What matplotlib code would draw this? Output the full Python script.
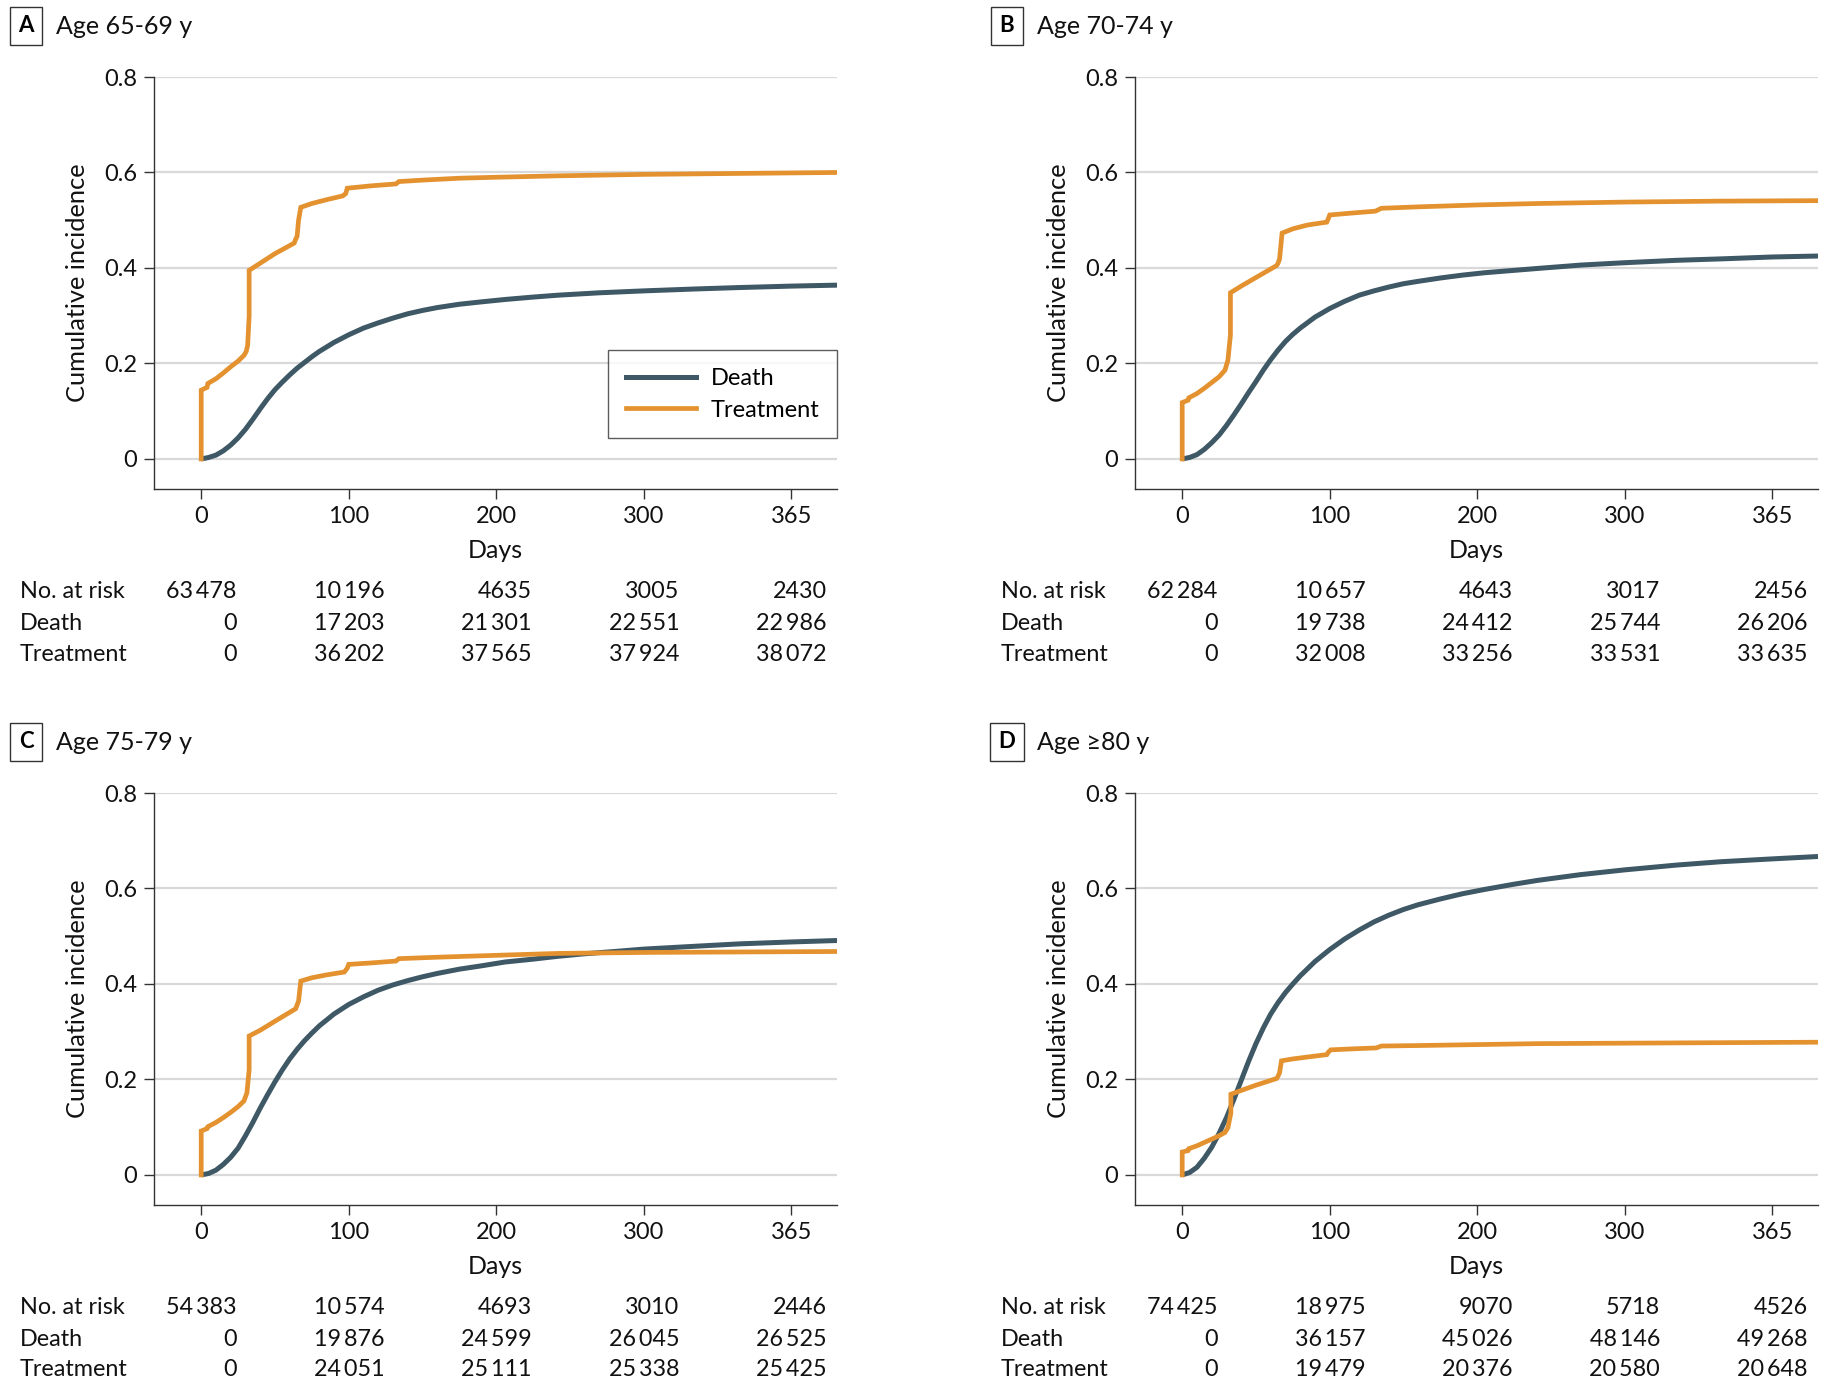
import matplotlib
matplotlib.use("Agg")
import matplotlib.pyplot as plt
from matplotlib import font_manager as fm
from matplotlib.transforms import blended_transform_factory
from matplotlib.lines import Line2D

names = {f.name for f in fm.fontManager.ttflist}
FONT = next((c for c in ["Lato", "Noto Sans", "Open Sans", "DejaVu Sans"] if c in names), "DejaVu Sans")
plt.rcParams['font.family'] = [FONT, 'DejaVu Sans']

# ---------------- data ----------------
panel_letters = ["A", "B", "C", "D"]
panel_titles = ["Age 65-69 y", "Age 70-74 y", "Age 75-79 y", "Age \u226580 y"]

tick_positions = [0, 100, 200, 300, 400]
tick_labels = ["0", "100", "200", "300", "365"]
risk_row_labels = ["No. at risk", "Death", "Treatment"]

# Death cumulative incidence
death_days_A = [0, 5, 10, 15, 20, 25, 30, 35, 40, 45, 50, 55, 60, 65, 70, 75, 80, 90, 100, 110, 120, 130, 140, 150, 160, 175, 190, 206, 225, 242, 270, 300, 335, 365, 400, 431]
death_vals_A = [0, 0.003, 0.008, 0.017, 0.029, 0.044, 0.062, 0.083, 0.105, 0.126, 0.145, 0.161, 0.176, 0.190, 0.202, 0.214, 0.225, 0.244, 0.260, 0.274, 0.285, 0.295, 0.304, 0.311, 0.317, 0.324, 0.329, 0.334, 0.339, 0.343, 0.348, 0.352, 0.356, 0.359, 0.362, 0.364]

death_days_B = [0, 5, 10, 15, 20, 25, 30, 35, 40, 45, 50, 55, 60, 65, 70, 75, 80, 90, 100, 110, 120, 130, 140, 150, 160, 175, 190, 205, 225, 241, 270, 300, 335, 365, 400, 431]
death_vals_B = [0, 0.003, 0.009, 0.020, 0.034, 0.050, 0.070, 0.092, 0.115, 0.139, 0.162, 0.186, 0.208, 0.228, 0.246, 0.261, 0.274, 0.297, 0.315, 0.330, 0.343, 0.352, 0.360, 0.367, 0.372, 0.379, 0.385, 0.390, 0.395, 0.399, 0.406, 0.411, 0.416, 0.419, 0.423, 0.425]

death_days_C = [0, 5, 10, 15, 20, 25, 30, 35, 40, 45, 50, 55, 60, 65, 70, 75, 80, 90, 100, 110, 120, 130, 140, 150, 160, 175, 190, 206, 225, 242, 259, 280, 300, 335, 365, 400, 431]
death_vals_C = [0, 0.003, 0.010, 0.022, 0.037, 0.056, 0.082, 0.110, 0.140, 0.168, 0.195, 0.220, 0.243, 0.263, 0.281, 0.297, 0.312, 0.337, 0.357, 0.373, 0.387, 0.398, 0.407, 0.415, 0.422, 0.431, 0.438, 0.446, 0.452, 0.458, 0.463, 0.468, 0.473, 0.479, 0.484, 0.488, 0.491]

death_days_D = [0, 5, 10, 15, 20, 25, 30, 35, 40, 45, 50, 55, 60, 65, 70, 75, 80, 90, 100, 110, 120, 130, 140, 150, 160, 175, 190, 205, 225, 241, 270, 300, 335, 365, 400, 431]
death_vals_D = [0, 0.005, 0.016, 0.035, 0.058, 0.087, 0.120, 0.158, 0.198, 0.238, 0.275, 0.308, 0.337, 0.361, 0.382, 0.400, 0.417, 0.447, 0.472, 0.494, 0.513, 0.530, 0.544, 0.556, 0.566, 0.578, 0.589, 0.598, 0.609, 0.617, 0.629, 0.639, 0.649, 0.656, 0.662, 0.667]

# Treatment cumulative incidence
treat_days_A = [0, 0, 4, 4.5, 10, 15, 20, 25, 29, 30.5, 31.5, 32.5, 32.5, 40, 50, 63, 64, 65, 66, 67.5, 75, 85, 96, 98, 99, 115, 132, 134, 150, 175, 200, 242, 300, 365, 431]
treat_vals_A = [0, 0.144, 0.150, 0.158, 0.168, 0.180, 0.193, 0.205, 0.217, 0.225, 0.238, 0.300, 0.395, 0.410, 0.430, 0.452, 0.460, 0.466, 0.500, 0.527, 0.535, 0.543, 0.551, 0.556, 0.567, 0.572, 0.576, 0.581, 0.584, 0.588, 0.590, 0.593, 0.596, 0.598, 0.600]

treat_days_B = [0, 0, 4, 4.5, 10, 15, 20, 25, 29, 31, 32.7, 32.7, 40, 50, 64, 65, 66, 67.7, 75, 85, 98, 99, 100, 115, 131, 135, 160, 200, 241, 300, 365, 431]
treat_vals_B = [0, 0.118, 0.123, 0.128, 0.137, 0.148, 0.160, 0.172, 0.186, 0.207, 0.260, 0.348, 0.362, 0.380, 0.405, 0.410, 0.419, 0.473, 0.482, 0.490, 0.496, 0.503, 0.511, 0.515, 0.519, 0.525, 0.528, 0.532, 0.535, 0.538, 0.540, 0.541]

treat_days_C = [0, 0, 4, 4.5, 10, 15, 20, 25, 29, 31, 32.5, 32.5, 40, 50, 64, 65, 66, 67.5, 75, 85, 97, 99, 100, 115, 132, 134, 160, 200, 242, 300, 365, 431]
treat_vals_C = [0, 0.092, 0.097, 0.101, 0.110, 0.120, 0.131, 0.143, 0.155, 0.172, 0.220, 0.291, 0.303, 0.322, 0.348, 0.356, 0.364, 0.406, 0.413, 0.419, 0.425, 0.433, 0.441, 0.444, 0.448, 0.453, 0.456, 0.460, 0.464, 0.466, 0.467, 0.468]

treat_days_D = [0, 0, 4, 4.5, 10, 15, 20, 25, 29, 31, 33, 33, 40, 50, 64, 65, 66, 67.3, 75, 85, 98, 99, 100.7, 115, 131.6, 135, 160, 200, 241, 300, 365, 431]
treat_vals_D = [0, 0.048, 0.051, 0.055, 0.061, 0.068, 0.075, 0.082, 0.089, 0.099, 0.130, 0.169, 0.177, 0.188, 0.202, 0.207, 0.214, 0.239, 0.243, 0.247, 0.252, 0.257, 0.262, 0.264, 0.266, 0.270, 0.271, 0.273, 0.275, 0.276, 0.277, 0.278]

# Risk tables
risk_A = [[63478, 10196, 4635, 3005, 2430], [0, 17203, 21301, 22551, 22986], [0, 36202, 37565, 37924, 38072]]
risk_B = [[62284, 10657, 4643, 3017, 2456], [0, 19738, 24412, 25744, 26206], [0, 32008, 33256, 33531, 33635]]
risk_C = [[54383, 10574, 4693, 3010, 2446], [0, 19876, 24599, 26045, 26525], [0, 24051, 25111, 25338, 25425]]
risk_D = [[74425, 18975, 9070, 5718, 4526], [0, 36157, 45026, 48146, 49268], [0, 19479, 20376, 20580, 20648]]

death_days = [death_days_A, death_days_B, death_days_C, death_days_D]
death_vals = [death_vals_A, death_vals_B, death_vals_C, death_vals_D]
treat_days = [treat_days_A, treat_days_B, treat_days_C, treat_days_D]
treat_vals = [treat_vals_A, treat_vals_B, treat_vals_C, treat_vals_D]
risks = [risk_A, risk_B, risk_C, risk_D]

DEATH_C = "#3f5866"
TREAT_C = "#e3922f"
FS = 16.5

def fmt(n):
    s = str(n)
    if len(s) >= 5:
        s = s[:-3] + "\u2009" + s[-3:]
    return s

W, H = 1827, 1382
fig = plt.figure(figsize=(W / 100, H / 100), dpi=100)

# pixel layout
ax_left = [154, 1135, 154, 1135]
ax_top = [77, 77, 793, 793]
ax_w = 683
ax_h = 412

for i in range(4):
    l, t = ax_left[i], ax_top[i]
    ax = fig.add_axes([l / W, 1 - (t + ax_h) / H, ax_w / W, ax_h / H])
    ax.set_xlim(-32, 431)
    ax.set_ylim(-0.063, 0.8)
    for y in [0, 0.2, 0.4, 0.6, 0.8]:
        ax.axhline(y, color="#d9d9d9", lw=1.6, zorder=0)
    ax.plot(death_days[i], death_vals[i], color=DEATH_C, lw=3.6, solid_capstyle="butt", zorder=3, label="Death")
    ax.plot(treat_days[i], treat_vals[i], color=TREAT_C, lw=3.4, solid_joinstyle="miter", zorder=4, label="Treatment")
    for s in ["top", "right"]:
        ax.spines[s].set_visible(False)
    for s in ["left", "bottom"]:
        ax.spines[s].set_color("#333333")
        ax.spines[s].set_linewidth(1.0)
    ax.spines["left"].set_bounds(-0.063, 0.8)
    ax.set_yticks([0, 0.2, 0.4, 0.6, 0.8])
    ax.set_yticklabels(["0", "0.2", "0.4", "0.6", "0.8"])
    ax.set_xticks(tick_positions)
    ax.set_xticklabels(tick_labels)
    ax.tick_params(axis="both", direction="out", length=7, width=1.0, color="#333333",
                   labelsize=FS + 0.5, labelcolor="#111111", pad=5)
    ax.set_ylabel("Cumulative incidence", fontsize=FS + 1.8, labelpad=11, color="#111111")
    ax.set_xlabel("Days", fontsize=FS + 1.5, labelpad=9, color="#111111")
    ax.patch.set_alpha(0)

    # panel header
    bx = l - 146
    fig.text((bx + 18) / W, 1 - (t - 51) / H, panel_letters[i], fontsize=FS - 0.5, fontweight="bold",
             ha="center", va="center",
             bbox=dict(boxstyle="square,pad=0.38", fc="white", ec="#333333", lw=1.0))
    fig.text((bx + 48) / W, 1 - (t - 51) / H, panel_titles[i], fontsize=FS + 1.5, ha="left", va="center",
             color="#111111")

    # risk table
    tr = blended_transform_factory(ax.transData, fig.transFigure)
    row_y = [t + 514, t + 546, t + 577]
    for r in range(3):
        fig.text((bx + 12) / W, 1 - row_y[r] / H, risk_row_labels[r], fontsize=FS + 0.3, ha="left", va="center",
                 color="#111111")
        for k, xp in enumerate(tick_positions):
            ax.text(xp + 24, 1 - row_y[r] / H, fmt(risks[i][r][k]), transform=tr, fontsize=FS + 0.3,
                    ha="right", va="center", color="#111111", clip_on=False)

    if i == 0:
        handles = [Line2D([], [], color=DEATH_C, lw=3.6), Line2D([], [], color=TREAT_C, lw=3.4)]
        leg = ax.legend(handles, ["Death", "Treatment"], loc="lower right", bbox_to_anchor=(1.0, 0.123),
                        fontsize=FS + 0.5, frameon=True, fancybox=False, edgecolor="#333333",
                        handlelength=3.0, borderpad=0.75, labelspacing=0.45, handletextpad=0.6,
                        borderaxespad=0)
        leg.get_frame().set_linewidth(1.0)

fig.savefig("out.png", dpi=100, facecolor="white")
